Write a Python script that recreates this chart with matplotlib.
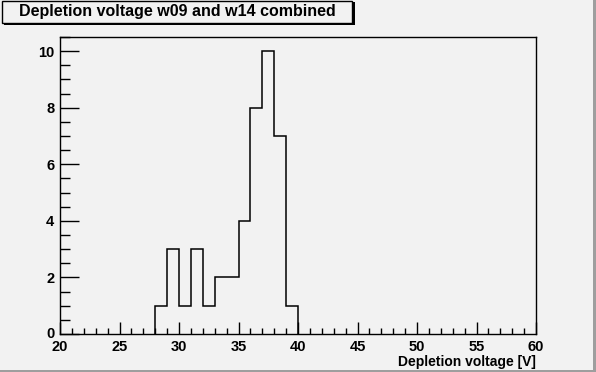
import matplotlib
matplotlib.use("Agg")
import matplotlib.pyplot as plt
from matplotlib.patches import Rectangle
from matplotlib.ticker import MultipleLocator
from matplotlib.transforms import ScaledTranslation

bin_edges = [28, 29, 30, 31, 32, 33, 34, 35, 36, 37, 38, 39, 40]
counts = [1, 3, 1, 3, 1, 2, 2, 4, 8, 10, 7, 1]
x_ticks = [20, 25, 30, 35, 40, 45, 50, 55, 60]
y_ticks = [0, 2, 4, 6, 8, 10]
title = "Depletion voltage w09 and w14 combined"
xlabel = "Depletion voltage [V]"

W, H = 596, 372
bg = "#f2f2f2"
fig = plt.figure(figsize=(W / 100, H / 100), dpi=100, facecolor=bg)
plt.rcParams['font.family'] = ['Liberation Sans', 'DejaVu Sans']

# canvas bevel
fig.patches.append(Rectangle((W - 3, 0), 3, H, transform=None, facecolor="#9e9e9e", edgecolor="none"))
fig.patches.append(Rectangle((0, 0), W, 2.5, transform=None, facecolor="#9e9e9e", edgecolor="none"))

ax = fig.add_axes([60 / W, (H - 334) / H, (536 - 60) / W, (334 - 37) / H])
ax.set_facecolor(bg)
ax.stairs(counts, bin_edges, color="black", linewidth=1.1)
ax.set_xlim(20, 60)
ax.set_ylim(0, 10.5)
ax.set_xticks(x_ticks)
ax.set_yticks(y_ticks)
ax.xaxis.set_minor_locator(MultipleLocator(1))
ax.yaxis.set_minor_locator(MultipleLocator(0.5))
ax.tick_params(axis="x", which="major", direction="in", length=9, width=1, pad=4)
ax.tick_params(axis="x", which="minor", direction="in", length=4.5, width=1)
ax.tick_params(axis="y", which="major", direction="in", length=14, width=1, pad=4)
ax.tick_params(axis="y", which="minor", direction="in", length=7, width=1)
ax.tick_params(top=False, right=False, which="both")
for lbl in ax.get_xticklabels() + ax.get_yticklabels():
    lbl.set_fontweight("bold")
    lbl.set_fontsize(10.5)
ylbls = ax.get_yticklabels()
ylbls[0].set_transform(ylbls[0].get_transform() + ScaledTranslation(0, 2 / 100, fig.dpi_scale_trans))
for s in ax.spines.values():
    s.set_linewidth(1)
ax.set_xlabel(xlabel, fontsize=10, fontweight="bold", loc="right", labelpad=1)

# title box
fig.patches.append(Rectangle((4, H - 25), 351, 23, transform=None, facecolor="black", edgecolor="none"))
fig.patches.append(Rectangle((2, H - 22.5), 350, 21.5, transform=None, facecolor=bg, edgecolor="black", linewidth=1))
fig.text((2 + 352) / 2 / W, (H - 11.5) / H, title, ha="center", va="center",
         fontsize=11.5, fontweight="bold")

fig.savefig("out.png", dpi=100, facecolor=bg)
